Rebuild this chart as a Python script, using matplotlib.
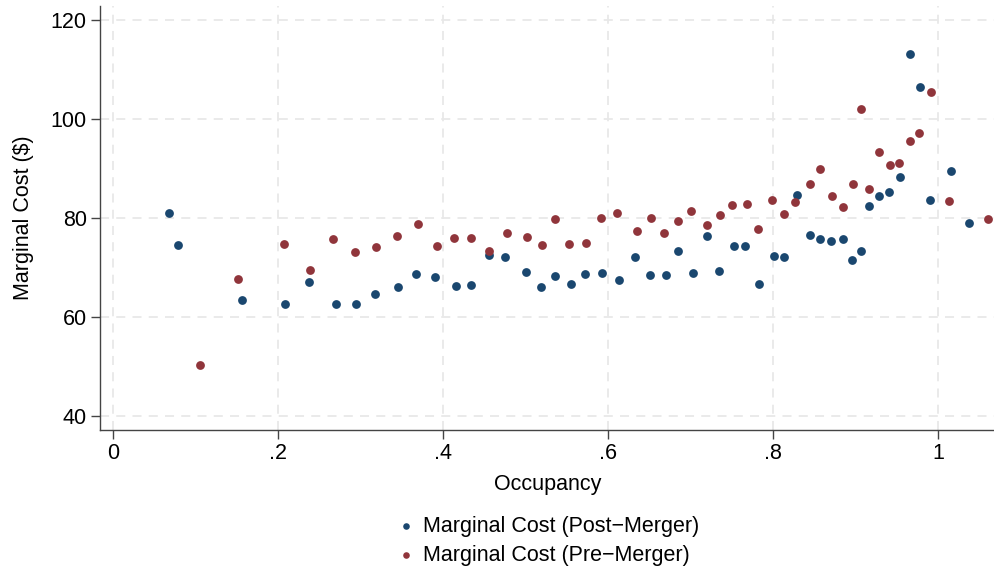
import matplotlib
matplotlib.use("Agg")
import matplotlib.pyplot as plt

plt.rcParams['font.family'] = ['Liberation Sans', 'DejaVu Sans']

# Post-merger marginal cost by occupancy
post_occ = [0.0675, 0.0788, 0.156, 0.2085, 0.2376, 0.27, 0.294, 0.3176, 0.3455, 0.367,
            0.390, 0.415, 0.4336, 0.4554, 0.475, 0.501, 0.519, 0.5354, 0.5544, 0.5721,
            0.5924, 0.613, 0.633, 0.651, 0.670, 0.685, 0.7027, 0.7196, 0.7346, 0.7524,
            0.7665, 0.783, 0.8005, 0.8133, 0.8287, 0.8453, 0.8574, 0.870, 0.8845, 0.8954,
            0.907, 0.9168, 0.928, 0.941, 0.9535, 0.9665, 0.978, 0.9908, 1.0154, 1.0376]
post_mc = [81.0, 74.5, 63.4, 62.7, 67.1, 62.6, 62.7, 64.6, 66.0, 68.6,
           68.1, 66.3, 66.4, 72.5, 72.1, 69.0, 66.0, 68.2, 66.7, 68.7,
           68.9, 67.5, 72.1, 68.4, 68.5, 73.3, 68.8, 76.4, 69.3, 74.3,
           74.4, 66.6, 72.3, 72.2, 84.6, 76.6, 75.8, 75.3, 75.8, 71.5,
           73.3, 82.4, 84.5, 85.3, 88.2, 113.1, 106.5, 83.6, 89.5, 78.9]

# Pre-merger marginal cost by occupancy
pre_occ = [0.105, 0.1515, 0.207, 0.238, 0.2667, 0.293, 0.318, 0.3435, 0.369, 0.392,
           0.4126, 0.4336, 0.4554, 0.4776, 0.5015, 0.520, 0.5354, 0.5527, 0.5726, 0.5908,
           0.611, 0.6348, 0.6514, 0.668, 0.685, 0.701, 0.7196, 0.7354, 0.750, 0.768,
           0.7818, 0.7988, 0.8138, 0.8267, 0.845, 0.8574, 0.872, 0.8853, 0.897, 0.907,
           0.9168, 0.9285, 0.9423, 0.953, 0.9657, 0.977, 0.991, 1.0138, 1.060]
pre_mc = [50.4, 67.6, 74.8, 69.6, 75.8, 73.1, 74.2, 76.3, 78.7, 74.3,
          75.9, 76.0, 73.3, 77.0, 76.1, 74.5, 79.7, 74.7, 75.0, 79.9,
          81.0, 77.4, 79.9, 77.0, 79.3, 81.5, 78.6, 80.7, 82.6, 82.8,
          77.8, 83.6, 80.8, 83.2, 86.9, 89.9, 84.4, 82.3, 86.9, 102.0,
          85.9, 93.3, 90.6, 91.2, 95.5, 97.1, 105.5, 83.4, 79.8]

x_ticks = [0, 0.2, 0.4, 0.6, 0.8, 1.0]
x_labels = ["0", ".2", ".4", ".6", ".8", "1"]
y_ticks = [40, 60, 80, 100, 120]

navy = "#1a476f"
maroon = "#90353b"
fs = 15.5

fig = plt.figure(figsize=(9.95, 5.76), dpi=100)
ax = fig.add_axes([100 / 995, 1 - 430 / 576, 895 / 995, 424 / 576])

ax.scatter(post_occ, post_mc, s=40, color=navy, linewidths=0, zorder=3,
           label="Marginal Cost (Post\u2212Merger)")
ax.scatter(pre_occ, pre_mc, s=40, color=maroon, linewidths=0, zorder=3,
           label="Marginal Cost (Pre\u2212Merger)")

ax.set_xlim(-0.016, 1.069)
ax.set_ylim(37.2, 122.8)
ax.set_xticks(x_ticks)
ax.set_xticklabels(x_labels)
ax.set_yticks(y_ticks)

ax.grid(True, color="#e8e8e8", linestyle=(0, (5, 4)), linewidth=1.3, zorder=0)
for side in ["top", "right"]:
    ax.spines[side].set_visible(False)
for side in ["left", "bottom"]:
    ax.spines[side].set_color("#444444")
    ax.spines[side].set_linewidth(1.0)

ax.tick_params(axis="both", direction="out", length=6.5, width=1.0, color="#444444",
               labelsize=fs, pad=3)

ax.set_xlabel("Occupancy", fontsize=fs, labelpad=7)
ax.set_ylabel("Marginal Cost ($)", fontsize=fs, labelpad=12)

fig.legend(loc="center", bbox_to_anchor=(548 / 995, 1 - 541 / 576), ncol=1, frameon=False,
           fontsize=fs, handlelength=0.8, handletextpad=0.4, labelspacing=0.38,
           markerscale=0.75, borderaxespad=0, borderpad=0)

fig.savefig("out.png", dpi=100)
